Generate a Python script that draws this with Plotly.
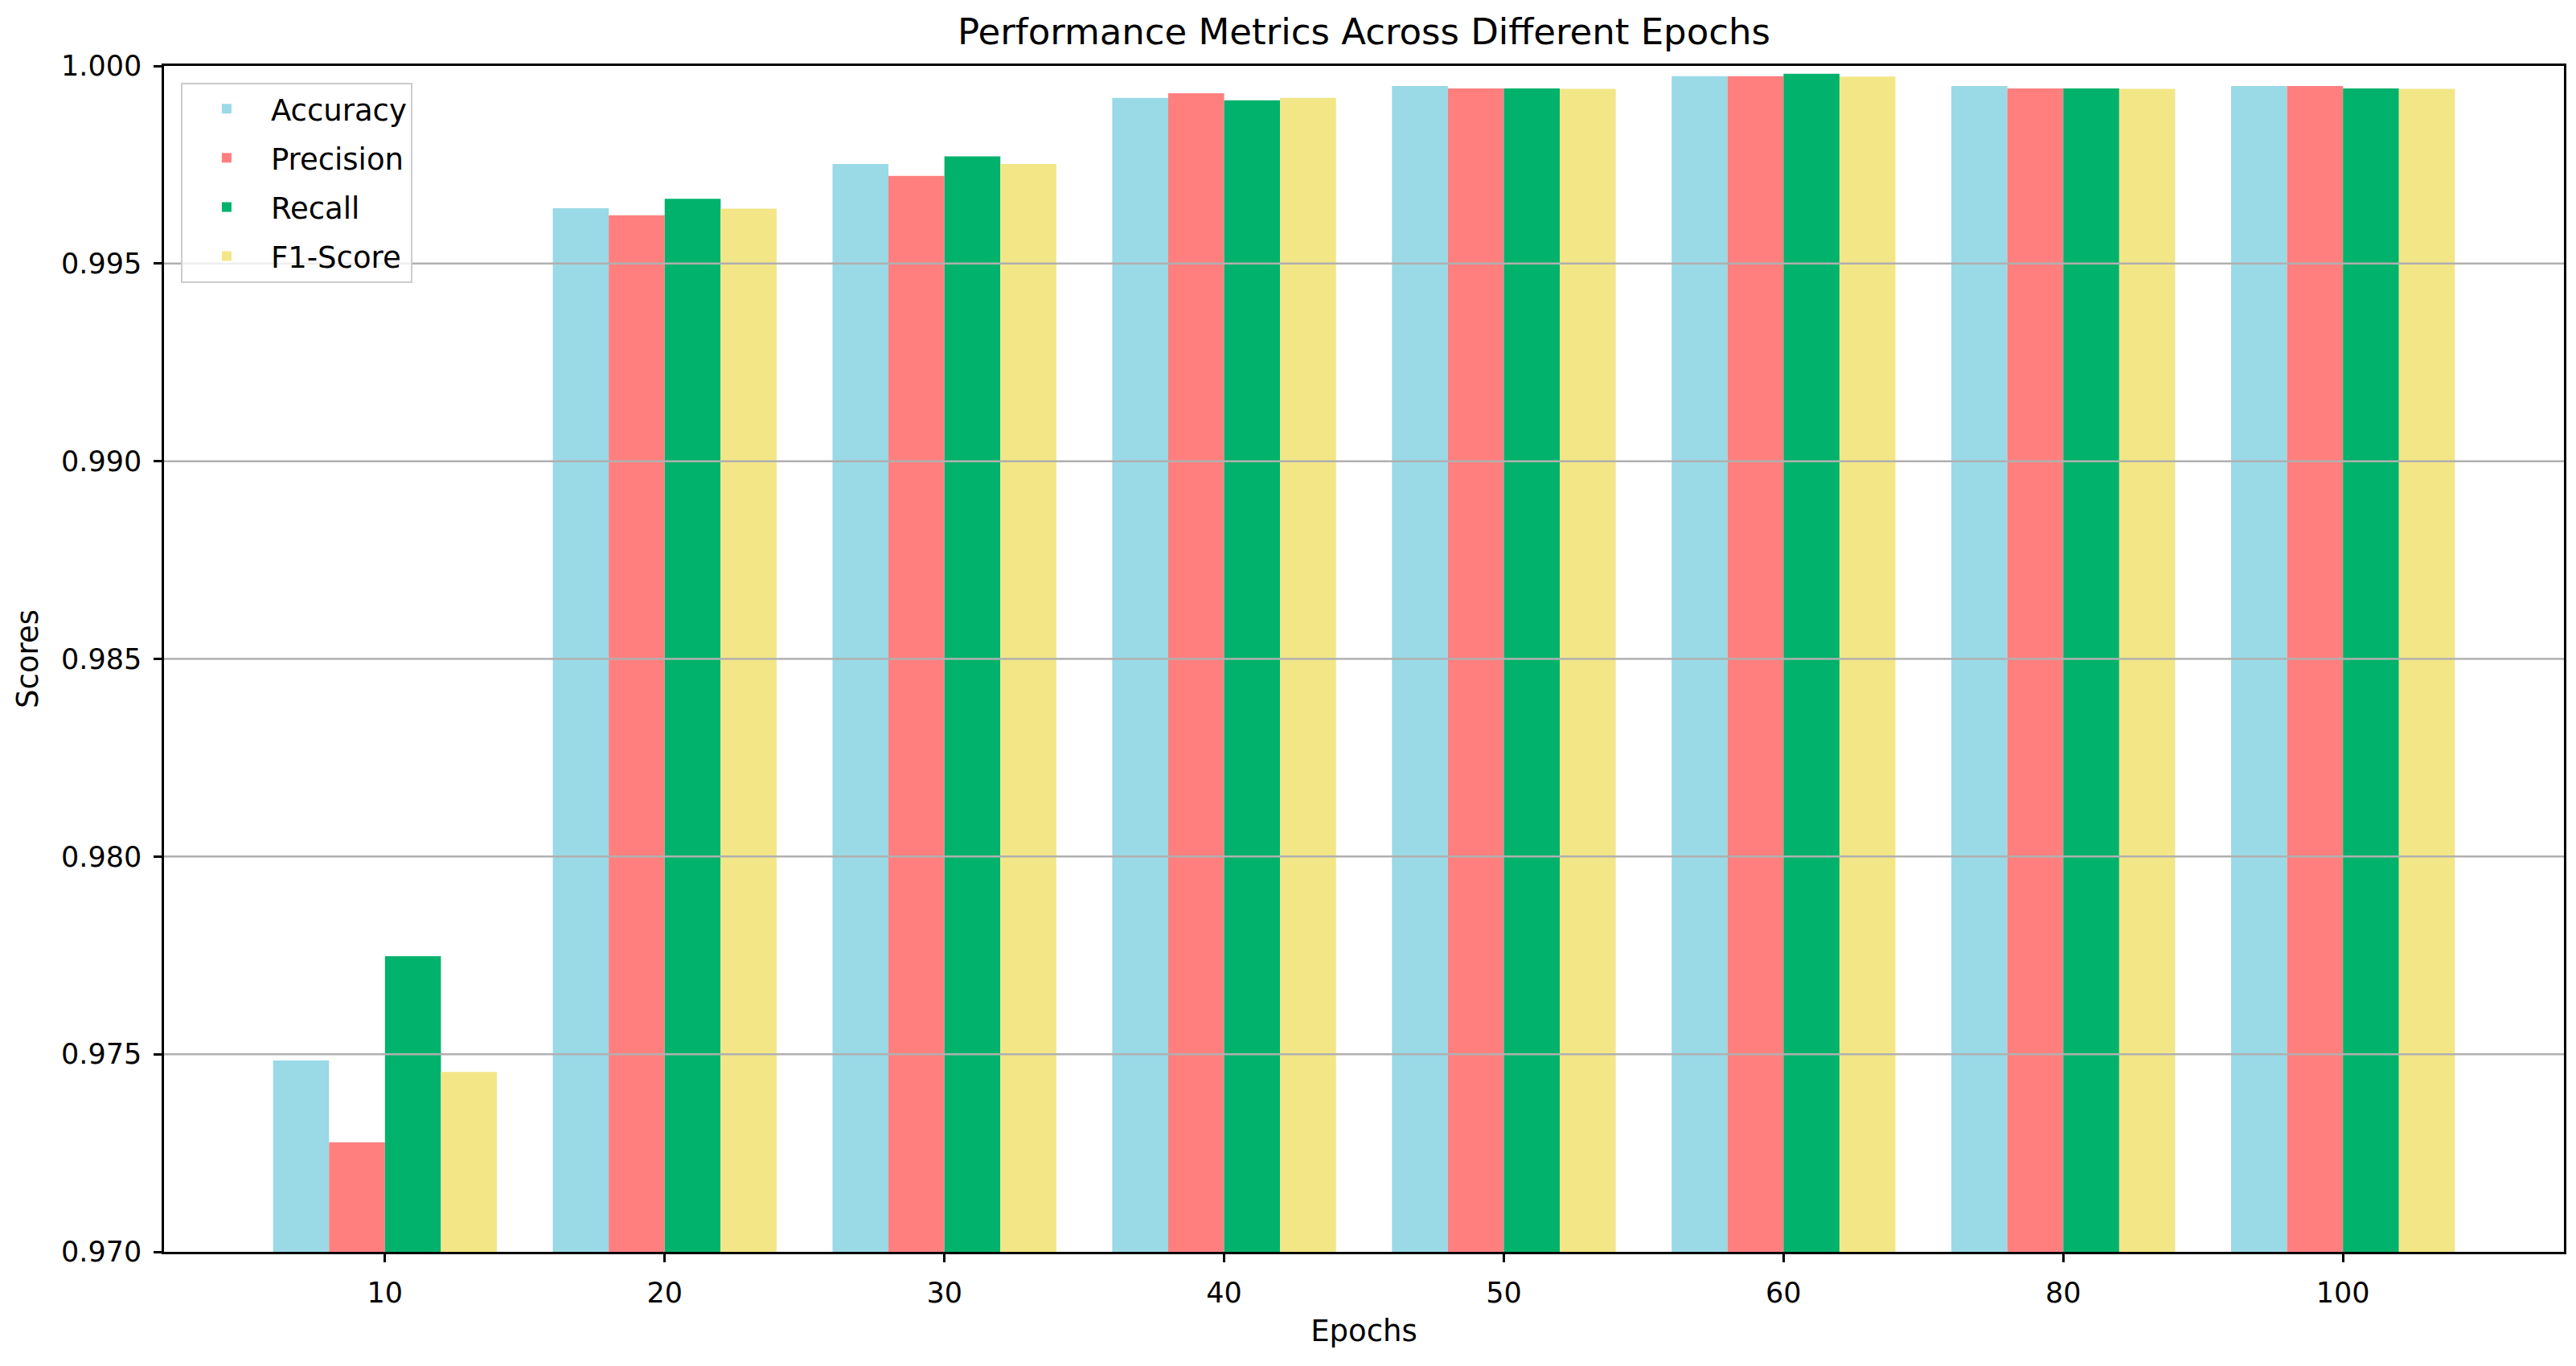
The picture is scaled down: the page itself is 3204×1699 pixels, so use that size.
import plotly.graph_objects as go

epochs = ["10", "20", "30", "40", "50", "60", "80", "100"]
accuracy = [0.97484, 0.99640, 0.99752, 0.99919, 0.99949, 0.99974, 0.99949, 0.99949]
precision = [0.97277, 0.99622, 0.99722, 0.99931, 0.99943, 0.99974, 0.99943, 0.99949]
recall = [0.97748, 0.99664, 0.99771, 0.99913, 0.99943, 0.99980, 0.99943, 0.99943]
f1_score = [0.97455, 0.99639, 0.99752, 0.99919, 0.99942, 0.99973, 0.99942, 0.99942]

series_names = ["Accuracy", "Precision", "Recall", "F1-Score"]
series_colors = ["#9AD9E6", "#FF7F7F", "#00B26B", "#F2E687"]
y_ticks = [0.970, 0.975, 0.980, 0.985, 0.990, 0.995, 1.000]

FONT = "DejaVu Sans"
# page body adds an 8px offset; figure sized so the plot area lands where the reference has it
W, H = 3196, 1691
ML, MR, MT, MB = 196, 13, 74, 142

fig = go.Figure()
for name, vals, col in zip(series_names, [accuracy, precision, recall, f1_score], series_colors):
    fig.add_trace(go.Bar(x=epochs, y=vals, name=name, legendgroup=name,
                         marker=dict(color=col, line=dict(width=0))))

# grid lines drawn above bars (as in the reference)
for t in y_ticks[1:-1]:
    fig.add_shape(type="line", xref="paper", x0=0, x1=1, yref="y", y0=t, y1=t,
                  line=dict(color="#b0b0b0", width=2.5), layer="above")

fig.update_layout(
    width=W, height=H,
    margin=dict(l=ML, r=MR, t=MT, b=MB),
    paper_bgcolor="white", plot_bgcolor="white",
    barmode="group", bargap=0.2, bargroupgap=0,
    font=dict(family=FONT, size=35, color="black"),
    title=dict(text="Performance Metrics Across Different Epochs", x=0.5, xref="paper",
               xanchor="center", y=1 - 31 / H, yanchor="middle",
               font=dict(family=FONT, size=45, color="black")),
    legend=dict(x=0.007, y=0.986, xanchor="left", yanchor="top",
                bgcolor="rgba(255,255,255,0.8)", bordercolor="#cccccc", borderwidth=2,
                font=dict(family=FONT, size=37, color="black"),
                itemwidth=100, tracegroupgap=10),
    showlegend=True,
)

fig.update_xaxes(
    type="category", range=[-0.79, 7.79],
    showgrid=False, showline=True, linecolor="black", linewidth=2.5, mirror=True,
    ticks="outside", ticklen=10, tickwidth=2.5, tickcolor="black",
    tickfont=dict(family=FONT, size=35, color="black"),
    ticklabelstandoff=8,
    title=dict(text="Epochs", font=dict(family=FONT, size=37, color="black"), standoff=16),
    layer="above traces",
)
fig.update_yaxes(
    range=[0.970, 1.000], tickvals=y_ticks, tickformat=".3f",
    showgrid=False, zeroline=False, showline=True, linecolor="black", linewidth=2.5, mirror=True,
    ticks="outside", ticklen=10, tickwidth=2.5, tickcolor="black",
    tickfont=dict(family=FONT, size=35, color="black"),
    ticklabelstandoff=8,
    title=dict(text="Scores", font=dict(family=FONT, size=37, color="black"), standoff=18),
    layer="above traces",
)

fig.write_html("out.html")
